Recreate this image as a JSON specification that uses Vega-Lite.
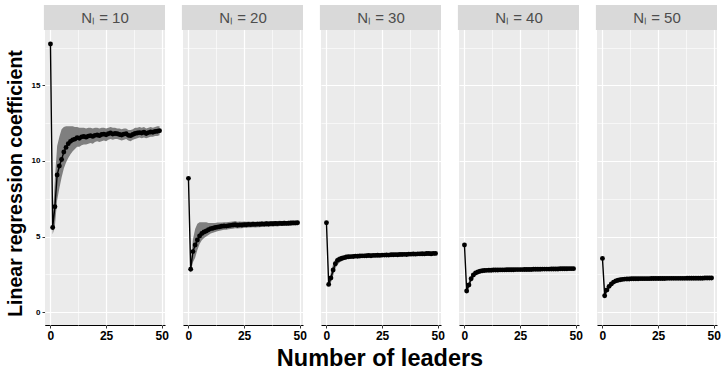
{
  "$schema": "https://vega.github.io/schema/vega-lite/v6.json",
  "padding": {"left": 5, "top": 5, "right": 3, "bottom": 2},
  "bounds": "flush",
  "data": {"values": [
    {"N":10,"x":0,"m":17.75,"lo":17.75,"hi":17.75,"p":"Nₗ = 10"},
    {"N":10,"x":1,"m":5.6,"lo":5.15,"hi":6.1},
    {"N":10,"x":2,"m":6.97,"lo":5.7,"hi":8.8},
    {"N":10,"x":3,"m":9.07,"lo":7.4,"hi":11.0},
    {"N":10,"x":4,"m":9.67,"lo":8.2,"hi":11.6},
    {"N":10,"x":5,"m":10.1,"lo":8.9,"hi":12.1},
    {"N":10,"x":6,"m":10.6,"lo":9.5,"hi":12.25},
    {"N":10,"x":7,"m":10.9,"lo":9.9,"hi":12.3},
    {"N":10,"x":8,"m":11.15,"lo":10.2,"hi":12.3},
    {"N":10,"x":9,"m":11.3,"lo":10.45,"hi":12.3},
    {"N":10,"x":10,"m":11.4,"lo":10.65,"hi":12.3},
    {"N":10,"x":11,"m":11.45,"lo":10.8,"hi":12.25},
    {"N":10,"x":12,"m":11.55,"lo":10.95,"hi":12.25},
    {"N":10,"x":13,"m":11.5,"lo":10.95,"hi":12.2},
    {"N":10,"x":14,"m":11.6,"lo":11.05,"hi":12.2},
    {"N":10,"x":15,"m":11.62,"lo":11.1,"hi":12.2},
    {"N":10,"x":16,"m":11.58,"lo":11.1,"hi":12.15},
    {"N":10,"x":17,"m":11.65,"lo":11.15,"hi":12.2},
    {"N":10,"x":18,"m":11.68,"lo":11.2,"hi":12.2},
    {"N":10,"x":19,"m":11.63,"lo":11.15,"hi":12.15},
    {"N":10,"x":20,"m":11.7,"lo":11.25,"hi":12.2},
    {"N":10,"x":21,"m":11.72,"lo":11.3,"hi":12.2},
    {"N":10,"x":22,"m":11.68,"lo":11.25,"hi":12.15},
    {"N":10,"x":23,"m":11.75,"lo":11.3,"hi":12.2},
    {"N":10,"x":24,"m":11.78,"lo":11.35,"hi":12.2},
    {"N":10,"x":25,"m":11.73,"lo":11.3,"hi":12.15},
    {"N":10,"x":26,"m":11.8,"lo":11.4,"hi":12.2},
    {"N":10,"x":27,"m":11.85,"lo":11.45,"hi":12.25},
    {"N":10,"x":28,"m":11.78,"lo":11.4,"hi":12.2},
    {"N":10,"x":29,"m":11.82,"lo":11.45,"hi":12.2},
    {"N":10,"x":30,"m":11.8,"lo":11.45,"hi":12.15},
    {"N":10,"x":31,"m":11.75,"lo":11.4,"hi":12.15},
    {"N":10,"x":32,"m":11.72,"lo":11.35,"hi":12.1},
    {"N":10,"x":33,"m":11.78,"lo":11.4,"hi":12.15},
    {"N":10,"x":34,"m":11.8,"lo":11.45,"hi":12.15},
    {"N":10,"x":35,"m":11.7,"lo":11.35,"hi":12.05},
    {"N":10,"x":36,"m":11.68,"lo":11.3,"hi":12.05},
    {"N":10,"x":37,"m":11.75,"lo":11.4,"hi":12.1},
    {"N":10,"x":38,"m":11.82,"lo":11.45,"hi":12.2},
    {"N":10,"x":39,"m":11.85,"lo":11.5,"hi":12.2},
    {"N":10,"x":40,"m":11.88,"lo":11.55,"hi":12.25},
    {"N":10,"x":41,"m":11.85,"lo":11.5,"hi":12.2},
    {"N":10,"x":42,"m":11.9,"lo":11.55,"hi":12.25},
    {"N":10,"x":43,"m":11.82,"lo":11.5,"hi":12.15},
    {"N":10,"x":44,"m":11.88,"lo":11.55,"hi":12.2},
    {"N":10,"x":45,"m":11.92,"lo":11.6,"hi":12.25},
    {"N":10,"x":46,"m":11.9,"lo":11.6,"hi":12.2},
    {"N":10,"x":47,"m":11.95,"lo":11.65,"hi":12.25},
    {"N":10,"x":48,"m":11.97,"lo":11.65,"hi":12.3},
    {"N":10,"x":49,"m":12.0,"lo":11.7,"hi":12.3},

    {"N":20,"x":0,"m":8.85,"lo":8.85,"hi":8.85,"p":"Nₗ = 20"},
    {"N":20,"x":1,"m":2.83,"lo":2.6,"hi":3.1},
    {"N":20,"x":2,"m":4.0,"lo":3.3,"hi":4.8},
    {"N":20,"x":3,"m":4.44,"lo":3.6,"hi":5.5},
    {"N":20,"x":4,"m":4.77,"lo":4.1,"hi":5.85},
    {"N":20,"x":5,"m":5.03,"lo":4.5,"hi":5.95},
    {"N":20,"x":6,"m":5.2,"lo":4.75,"hi":5.95},
    {"N":20,"x":7,"m":5.3,"lo":4.9,"hi":5.95},
    {"N":20,"x":8,"m":5.36,"lo":5.0,"hi":5.95},
    {"N":20,"x":9,"m":5.45,"lo":5.1,"hi":5.9},
    {"N":20,"x":10,"m":5.52,"lo":5.2,"hi":5.9},
    {"N":20,"x":11,"m":5.55,"lo":5.25,"hi":5.9},
    {"N":20,"x":12,"m":5.6,"lo":5.3,"hi":5.9},
    {"N":20,"x":13,"m":5.62,"lo":5.35,"hi":5.92},
    {"N":20,"x":14,"m":5.65,"lo":5.38,"hi":5.92},
    {"N":20,"x":15,"m":5.68,"lo":5.42,"hi":5.93},
    {"N":20,"x":16,"m":5.7,"lo":5.45,"hi":5.95},
    {"N":20,"x":17,"m":5.69,"lo":5.45,"hi":5.94},
    {"N":20,"x":18,"m":5.72,"lo":5.48,"hi":5.96},
    {"N":20,"x":19,"m":5.74,"lo":5.5,"hi":5.98},
    {"N":20,"x":20,"m":5.76,"lo":5.52,"hi":6.0},
    {"N":20,"x":21,"m":5.78,"lo":5.55,"hi":6.02},
    {"N":20,"x":22,"m":5.75,"lo":5.53,"hi":5.98},
    {"N":20,"x":23,"m":5.77,"lo":5.55,"hi":6.0},
    {"N":20,"x":24,"m":5.76,"lo":5.55,"hi":5.98},
    {"N":20,"x":25,"m":5.79,"lo":5.58,"hi":6.0},
    {"N":20,"x":26,"m":5.78,"lo":5.58,"hi":5.97},
    {"N":20,"x":27,"m":5.8,"lo":5.6,"hi":5.99},
    {"N":20,"x":28,"m":5.79,"lo":5.59,"hi":5.98},
    {"N":20,"x":29,"m":5.81,"lo":5.61,"hi":6.0},
    {"N":20,"x":30,"m":5.8,"lo":5.6,"hi":5.98},
    {"N":20,"x":31,"m":5.82,"lo":5.62,"hi":6.0},
    {"N":20,"x":32,"m":5.81,"lo":5.62,"hi":5.99},
    {"N":20,"x":33,"m":5.83,"lo":5.64,"hi":6.01},
    {"N":20,"x":34,"m":5.82,"lo":5.63,"hi":6.0},
    {"N":20,"x":35,"m":5.84,"lo":5.65,"hi":6.02},
    {"N":20,"x":36,"m":5.83,"lo":5.64,"hi":6.0},
    {"N":20,"x":37,"m":5.85,"lo":5.66,"hi":6.02},
    {"N":20,"x":38,"m":5.84,"lo":5.66,"hi":6.01},
    {"N":20,"x":39,"m":5.86,"lo":5.68,"hi":6.03},
    {"N":20,"x":40,"m":5.85,"lo":5.67,"hi":6.02},
    {"N":20,"x":41,"m":5.87,"lo":5.69,"hi":6.04},
    {"N":20,"x":42,"m":5.86,"lo":5.69,"hi":6.03},
    {"N":20,"x":43,"m":5.88,"lo":5.7,"hi":6.04},
    {"N":20,"x":44,"m":5.87,"lo":5.7,"hi":6.03},
    {"N":20,"x":45,"m":5.88,"lo":5.71,"hi":6.04},
    {"N":20,"x":46,"m":5.89,"lo":5.72,"hi":6.05},
    {"N":20,"x":47,"m":5.9,"lo":5.73,"hi":6.06},
    {"N":20,"x":48,"m":5.9,"lo":5.73,"hi":6.05},
    {"N":20,"x":49,"m":5.91,"lo":5.74,"hi":6.06},

    {"N":30,"x":0,"m":5.91,"lo":5.91,"hi":5.91,"p":"Nₗ = 30"},
    {"N":30,"x":1,"m":1.83,"lo":1.7,"hi":1.97},
    {"N":30,"x":2,"m":2.25,"lo":1.95,"hi":2.6},
    {"N":30,"x":3,"m":2.78,"lo":2.4,"hi":3.2},
    {"N":30,"x":4,"m":3.2,"lo":2.9,"hi":3.5},
    {"N":30,"x":5,"m":3.42,"lo":3.15,"hi":3.65},
    {"N":30,"x":6,"m":3.5,"lo":3.3,"hi":3.7},
    {"N":30,"x":7,"m":3.56,"lo":3.38,"hi":3.72},
    {"N":30,"x":8,"m":3.6,"lo":3.45,"hi":3.75},
    {"N":30,"x":9,"m":3.64,"lo":3.5,"hi":3.78},
    {"N":30,"x":10,"m":3.66,"lo":3.52,"hi":3.8},
    {"N":30,"x":11,"m":3.67,"lo":3.57,"hi":3.77},
    {"N":30,"x":12,"m":3.68,"lo":3.58,"hi":3.78},
    {"N":30,"x":13,"m":3.7,"lo":3.6,"hi":3.8},
    {"N":30,"x":14,"m":3.69,"lo":3.6,"hi":3.79},
    {"N":30,"x":15,"m":3.71,"lo":3.62,"hi":3.8},
    {"N":30,"x":16,"m":3.72,"lo":3.63,"hi":3.81},
    {"N":30,"x":17,"m":3.72,"lo":3.63,"hi":3.82},
    {"N":30,"x":18,"m":3.73,"lo":3.64,"hi":3.82},
    {"N":30,"x":19,"m":3.74,"lo":3.65,"hi":3.83},
    {"N":30,"x":20,"m":3.73,"lo":3.64,"hi":3.82},
    {"N":30,"x":21,"m":3.75,"lo":3.66,"hi":3.84},
    {"N":30,"x":22,"m":3.75,"lo":3.66,"hi":3.84},
    {"N":30,"x":23,"m":3.76,"lo":3.67,"hi":3.85},
    {"N":30,"x":24,"m":3.75,"lo":3.66,"hi":3.84},
    {"N":30,"x":25,"m":3.77,"lo":3.68,"hi":3.86},
    {"N":30,"x":26,"m":3.77,"lo":3.68,"hi":3.86},
    {"N":30,"x":27,"m":3.78,"lo":3.69,"hi":3.87},
    {"N":30,"x":28,"m":3.77,"lo":3.68,"hi":3.86},
    {"N":30,"x":29,"m":3.79,"lo":3.7,"hi":3.88},
    {"N":30,"x":30,"m":3.79,"lo":3.7,"hi":3.88},
    {"N":30,"x":31,"m":3.8,"lo":3.71,"hi":3.89},
    {"N":30,"x":32,"m":3.79,"lo":3.7,"hi":3.88},
    {"N":30,"x":33,"m":3.81,"lo":3.72,"hi":3.9},
    {"N":30,"x":34,"m":3.81,"lo":3.72,"hi":3.9},
    {"N":30,"x":35,"m":3.82,"lo":3.73,"hi":3.91},
    {"N":30,"x":36,"m":3.81,"lo":3.72,"hi":3.9},
    {"N":30,"x":37,"m":3.83,"lo":3.74,"hi":3.92},
    {"N":30,"x":38,"m":3.83,"lo":3.74,"hi":3.92},
    {"N":30,"x":39,"m":3.84,"lo":3.75,"hi":3.93},
    {"N":30,"x":40,"m":3.83,"lo":3.74,"hi":3.92},
    {"N":30,"x":41,"m":3.85,"lo":3.76,"hi":3.94},
    {"N":30,"x":42,"m":3.85,"lo":3.76,"hi":3.94},
    {"N":30,"x":43,"m":3.86,"lo":3.77,"hi":3.95},
    {"N":30,"x":44,"m":3.85,"lo":3.76,"hi":3.94},
    {"N":30,"x":45,"m":3.87,"lo":3.78,"hi":3.96},
    {"N":30,"x":46,"m":3.87,"lo":3.78,"hi":3.96},
    {"N":30,"x":47,"m":3.86,"lo":3.77,"hi":3.95},
    {"N":30,"x":48,"m":3.88,"lo":3.79,"hi":3.97},
    {"N":30,"x":49,"m":3.88,"lo":3.79,"hi":3.97},

    {"N":40,"x":0,"m":4.44,"lo":4.44,"hi":4.44,"p":"Nₗ = 40"},
    {"N":40,"x":1,"m":1.39,"lo":1.3,"hi":1.5},
    {"N":40,"x":2,"m":1.79,"lo":1.6,"hi":2.0},
    {"N":40,"x":3,"m":2.2,"lo":2.0,"hi":2.45},
    {"N":40,"x":4,"m":2.45,"lo":2.28,"hi":2.62},
    {"N":40,"x":5,"m":2.58,"lo":2.45,"hi":2.72},
    {"N":40,"x":6,"m":2.65,"lo":2.53,"hi":2.77},
    {"N":40,"x":7,"m":2.7,"lo":2.6,"hi":2.8},
    {"N":40,"x":8,"m":2.73,"lo":2.63,"hi":2.83},
    {"N":40,"x":9,"m":2.75,"lo":2.65,"hi":2.85},
    {"N":40,"x":10,"m":2.76,"lo":2.67,"hi":2.85},
    {"N":40,"x":11,"m":2.77,"lo":2.7,"hi":2.84},
    {"N":40,"x":12,"m":2.77,"lo":2.7,"hi":2.84},
    {"N":40,"x":13,"m":2.78,"lo":2.71,"hi":2.85},
    {"N":40,"x":14,"m":2.78,"lo":2.71,"hi":2.85},
    {"N":40,"x":15,"m":2.78,"lo":2.71,"hi":2.85},
    {"N":40,"x":16,"m":2.79,"lo":2.72,"hi":2.86},
    {"N":40,"x":17,"m":2.79,"lo":2.72,"hi":2.86},
    {"N":40,"x":18,"m":2.79,"lo":2.72,"hi":2.86},
    {"N":40,"x":19,"m":2.8,"lo":2.73,"hi":2.87},
    {"N":40,"x":20,"m":2.8,"lo":2.73,"hi":2.87},
    {"N":40,"x":21,"m":2.8,"lo":2.73,"hi":2.87},
    {"N":40,"x":22,"m":2.8,"lo":2.73,"hi":2.87},
    {"N":40,"x":23,"m":2.81,"lo":2.74,"hi":2.88},
    {"N":40,"x":24,"m":2.81,"lo":2.74,"hi":2.88},
    {"N":40,"x":25,"m":2.81,"lo":2.74,"hi":2.88},
    {"N":40,"x":26,"m":2.81,"lo":2.74,"hi":2.88},
    {"N":40,"x":27,"m":2.82,"lo":2.75,"hi":2.89},
    {"N":40,"x":28,"m":2.82,"lo":2.75,"hi":2.89},
    {"N":40,"x":29,"m":2.82,"lo":2.75,"hi":2.89},
    {"N":40,"x":30,"m":2.82,"lo":2.75,"hi":2.89},
    {"N":40,"x":31,"m":2.83,"lo":2.76,"hi":2.9},
    {"N":40,"x":32,"m":2.83,"lo":2.76,"hi":2.9},
    {"N":40,"x":33,"m":2.83,"lo":2.76,"hi":2.9},
    {"N":40,"x":34,"m":2.83,"lo":2.76,"hi":2.9},
    {"N":40,"x":35,"m":2.84,"lo":2.77,"hi":2.91},
    {"N":40,"x":36,"m":2.84,"lo":2.77,"hi":2.91},
    {"N":40,"x":37,"m":2.84,"lo":2.77,"hi":2.91},
    {"N":40,"x":38,"m":2.84,"lo":2.77,"hi":2.91},
    {"N":40,"x":39,"m":2.85,"lo":2.78,"hi":2.92},
    {"N":40,"x":40,"m":2.85,"lo":2.78,"hi":2.92},
    {"N":40,"x":41,"m":2.85,"lo":2.78,"hi":2.92},
    {"N":40,"x":42,"m":2.85,"lo":2.78,"hi":2.92},
    {"N":40,"x":43,"m":2.86,"lo":2.79,"hi":2.93},
    {"N":40,"x":44,"m":2.86,"lo":2.79,"hi":2.93},
    {"N":40,"x":45,"m":2.86,"lo":2.79,"hi":2.93},
    {"N":40,"x":46,"m":2.86,"lo":2.79,"hi":2.93},
    {"N":40,"x":47,"m":2.87,"lo":2.8,"hi":2.94},
    {"N":40,"x":48,"m":2.87,"lo":2.8,"hi":2.94},
    {"N":40,"x":49,"m":2.87,"lo":2.8,"hi":2.94},

    {"N":50,"x":0,"m":3.55,"lo":3.55,"hi":3.55,"p":"Nₗ = 50"},
    {"N":50,"x":1,"m":1.08,"lo":1.0,"hi":1.17},
    {"N":50,"x":2,"m":1.46,"lo":1.32,"hi":1.6},
    {"N":50,"x":3,"m":1.7,"lo":1.55,"hi":1.85},
    {"N":50,"x":4,"m":1.86,"lo":1.74,"hi":1.98},
    {"N":50,"x":5,"m":1.98,"lo":1.88,"hi":2.08},
    {"N":50,"x":6,"m":2.06,"lo":1.97,"hi":2.15},
    {"N":50,"x":7,"m":2.1,"lo":2.02,"hi":2.18},
    {"N":50,"x":8,"m":2.14,"lo":2.06,"hi":2.22},
    {"N":50,"x":9,"m":2.16,"lo":2.09,"hi":2.23},
    {"N":50,"x":10,"m":2.18,"lo":2.11,"hi":2.25},
    {"N":50,"x":11,"m":2.19,"lo":2.13,"hi":2.25},
    {"N":50,"x":12,"m":2.19,"lo":2.13,"hi":2.25},
    {"N":50,"x":13,"m":2.2,"lo":2.14,"hi":2.26},
    {"N":50,"x":14,"m":2.2,"lo":2.14,"hi":2.26},
    {"N":50,"x":15,"m":2.2,"lo":2.14,"hi":2.26},
    {"N":50,"x":16,"m":2.2,"lo":2.14,"hi":2.26},
    {"N":50,"x":17,"m":2.21,"lo":2.15,"hi":2.27},
    {"N":50,"x":18,"m":2.21,"lo":2.15,"hi":2.27},
    {"N":50,"x":19,"m":2.21,"lo":2.15,"hi":2.27},
    {"N":50,"x":20,"m":2.21,"lo":2.15,"hi":2.27},
    {"N":50,"x":21,"m":2.21,"lo":2.15,"hi":2.27},
    {"N":50,"x":22,"m":2.22,"lo":2.16,"hi":2.28},
    {"N":50,"x":23,"m":2.22,"lo":2.16,"hi":2.28},
    {"N":50,"x":24,"m":2.22,"lo":2.16,"hi":2.28},
    {"N":50,"x":25,"m":2.22,"lo":2.16,"hi":2.28},
    {"N":50,"x":26,"m":2.22,"lo":2.16,"hi":2.28},
    {"N":50,"x":27,"m":2.22,"lo":2.16,"hi":2.28},
    {"N":50,"x":28,"m":2.22,"lo":2.16,"hi":2.28},
    {"N":50,"x":29,"m":2.23,"lo":2.17,"hi":2.29},
    {"N":50,"x":30,"m":2.23,"lo":2.17,"hi":2.29},
    {"N":50,"x":31,"m":2.23,"lo":2.17,"hi":2.29},
    {"N":50,"x":32,"m":2.23,"lo":2.17,"hi":2.29},
    {"N":50,"x":33,"m":2.23,"lo":2.17,"hi":2.29},
    {"N":50,"x":34,"m":2.23,"lo":2.17,"hi":2.29},
    {"N":50,"x":35,"m":2.23,"lo":2.17,"hi":2.29},
    {"N":50,"x":36,"m":2.23,"lo":2.17,"hi":2.29},
    {"N":50,"x":37,"m":2.23,"lo":2.17,"hi":2.29},
    {"N":50,"x":38,"m":2.24,"lo":2.18,"hi":2.3},
    {"N":50,"x":39,"m":2.24,"lo":2.18,"hi":2.3},
    {"N":50,"x":40,"m":2.24,"lo":2.18,"hi":2.3},
    {"N":50,"x":41,"m":2.24,"lo":2.18,"hi":2.3},
    {"N":50,"x":42,"m":2.24,"lo":2.18,"hi":2.3},
    {"N":50,"x":43,"m":2.24,"lo":2.18,"hi":2.3},
    {"N":50,"x":44,"m":2.24,"lo":2.18,"hi":2.3},
    {"N":50,"x":45,"m":2.24,"lo":2.18,"hi":2.3},
    {"N":50,"x":46,"m":2.25,"lo":2.19,"hi":2.31},
    {"N":50,"x":47,"m":2.25,"lo":2.19,"hi":2.31},
    {"N":50,"x":48,"m":2.25,"lo":2.19,"hi":2.31},
    {"N":50,"x":49,"m":2.25,"lo":2.19,"hi":2.31}
  ]},
  "facet": {
    "column": {
      "field": "N", "type": "ordinal",
      "header": {
        "labels": false,
        "title": "Number of leaders",
        "titleOrient": "bottom",
        "titleFont": "Liberation Sans",
        "titleFontSize": 23.5,
        "titleFontWeight": "bold",
        "titleColor": "black",
        "titlePadding": -4
      }
    }
  },
  "spacing": 18,
  "spec": {
    "width": 120,
    "height": 320,
    "encoding": {
      "x": {
        "field": "x", "type": "quantitative",
        "scale": {"domain": [-2.45, 51.45], "nice": false, "zero": false},
        "axis": {
          "values": [0, 12.5, 25, 37.5, 50],
          "labelExpr": "datum.value % 25 === 0 ? datum.label : ''",
          "title": null,
          "grid": true,
          "gridColor": "white",
          "gridWidth": {"condition": {"test": "datum.value % 25 === 0", "value": 1.2}, "value": 0.6},
          "domain": true,
          "domainColor": "black",
          "domainWidth": 1,
          "ticks": true,
          "tickColor": "#333333",
          "tickSize": 3,
          "tickOpacity": {"condition": {"test": "datum.value % 25 === 0", "value": 1}, "value": 0},
          "labelFont": "Liberation Sans",
          "labelFontSize": 12,
          "labelFontWeight": "bold",
          "labelColor": "black",
          "labelPadding": 2,
          "labelFlush": false,
          "labelOverlap": false
        }
      }
    },
    "layer": [
      {
        "mark": {"type": "area", "color": "#7f7f7f", "opacity": 1},
        "encoding": {
          "y": {
            "field": "lo", "type": "quantitative",
            "scale": {"domain": [-0.86, 20.33], "nice": false, "zero": false},
            "axis": {
              "values": [0, 2.5, 5, 7.5, 10, 12.5, 15, 17.5],
              "labelExpr": "datum.value % 5 === 0 ? datum.label : ''",
              "title": "Linear regression coefficient",
              "titleFont": "Liberation Sans",
              "titleFontSize": 19.5,
              "titleFontWeight": "bold",
              "titleColor": "black",
              "titlePadding": 6,
              "titleY": 178,
              "grid": true,
              "gridColor": "white",
              "gridWidth": {"condition": {"test": "datum.value % 5 === 0", "value": 1.2}, "value": 0.6},
              "domain": true,
              "domainColor": "black",
              "domainWidth": 1,
              "tickColor": "#333333",
              "tickSize": 3,
              "tickOpacity": {"condition": {"test": "datum.value % 5 === 0", "value": 1}, "value": 0},
              "labelFont": "Liberation Sans",
              "labelFontSize": 8,
              "labelFontWeight": "bold",
              "labelColor": "black",
              "labelPadding": 2,
              "labelOverlap": false
            }
          },
          "y2": {"field": "hi"}
        }
      },
      {
        "mark": {"type": "line", "color": "black", "strokeWidth": 1.4},
        "encoding": {"y": {"field": "m", "type": "quantitative"}}
      },
      {
        "mark": {"type": "circle", "color": "black", "opacity": 1, "size": 24},
        "encoding": {"y": {"field": "m", "type": "quantitative"}}
      },
      {
        "transform": [{"filter": "datum.x === 0"}],
        "mark": {"type": "rect", "color": "#d9d9d9", "opacity": 1},
        "encoding": {
          "x": {"datum": -2.95},
          "x2": {"datum": 51.45},
          "y": {"datum": 18.67},
          "y2": {"datum": 20.33}
        }
      },
      {
        "transform": [{"filter": "datum.x === 0"}],
        "mark": {"type": "text", "color": "#4d4d4d", "fontSize": 15, "font": "Liberation Sans", "baseline": "middle", "align": "center"},
        "encoding": {
          "x": {"datum": 24.5},
          "y": {"datum": 19.5},
          "text": {"field": "p"}
        }
      }
    ]
  },
  "config": {
    "view": {"fill": "#ebebeb", "stroke": null},
    "font": "Liberation Sans"
  }
}
